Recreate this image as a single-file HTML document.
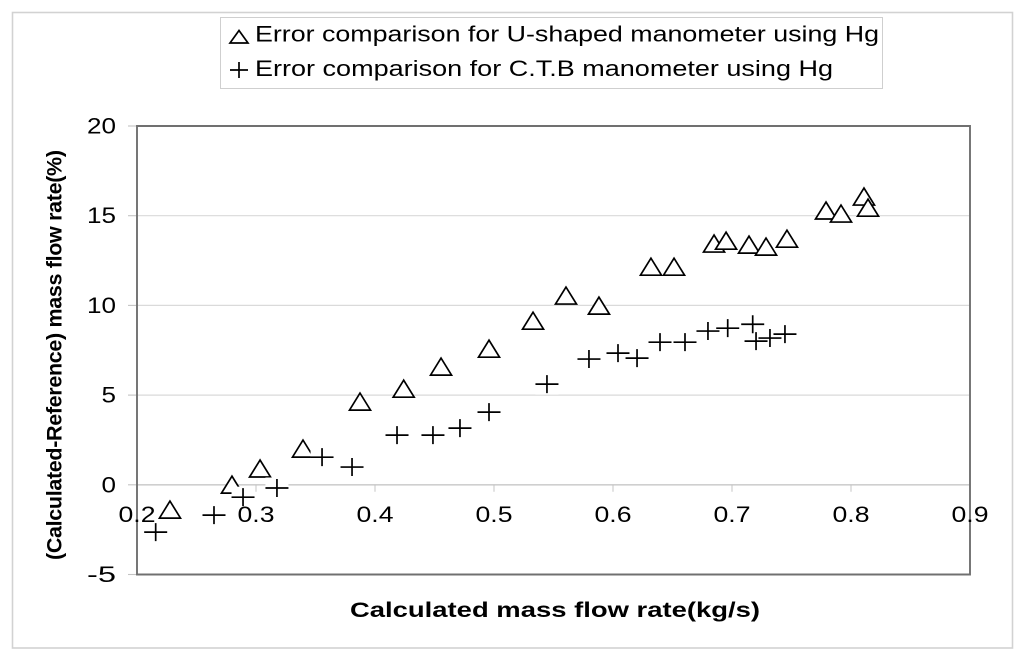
<!DOCTYPE html>
<html lang="en">
<head>
<meta charset="utf-8">
<title>Error comparison chart</title>
<style>
html,body{margin:0;padding:0;background:#fff;}
svg{display:block;font-family:"Liberation Sans",sans-serif;filter:blur(0.35px);}
</style>
</head>
<body>
<svg id="chart" xmlns="http://www.w3.org/2000/svg" width="1024" height="660" viewBox="0 0 1024 660">
  <rect x="0" y="0" width="1024" height="660" fill="#ffffff"/>
  <rect x="12.5" y="12.5" width="1000" height="635.5" fill="#ffffff" stroke="#d2d2d2" stroke-width="1.6"/>
  <g id="grid"></g>
  <g id="axes"></g>
  <g id="marks"></g>
  <g id="labels"></g>
  <text x="350" y="617" font-size="21.5" font-weight="700" fill="#000" textLength="410" lengthAdjust="spacingAndGlyphs">Calculated mass flow rate(kg/s)</text>
  <text transform="translate(61.5,560) rotate(-90)" font-size="21.5" font-weight="700" fill="#000" textLength="410" lengthAdjust="spacing">(Calculated-Reference) mass flow rate(%)</text>
  <g>
    <rect x="220.5" y="17.5" width="662" height="71" fill="#ffffff" stroke="#cfcfcf" stroke-width="1"/>
    <polygon points="239,30.5 230,43 248,43" fill="#fff" stroke="#000" stroke-width="1.7"/>
    <text x="255" y="41.5" font-size="22.5" fill="#000" textLength="624" lengthAdjust="spacingAndGlyphs">Error comparison for U-shaped manometer using Hg</text>
    <path d="M230 70H248M239 62V78" fill="none" stroke="#000" stroke-width="1.7"/>
    <text x="255" y="76" font-size="22.5" fill="#000" textLength="578" lengthAdjust="spacingAndGlyphs">Error comparison for C.T.B manometer using Hg</text>
  </g>
</svg>
<script>
const xTicks = [0.2, 0.3, 0.4, 0.5, 0.6, 0.7, 0.8, 0.9];
const yTicks = [20, 15, 10, 5, 0, -5];
const xTickLabels = ["0.2", "0.3", "0.4", "0.5", "0.6", "0.7", "0.8", "0.9"];
const yTickLabels = ["20", "15", "10", "5", "0", "-5"];

const uShapedX = [0.2277, 0.2798, 0.3034, 0.3395, 0.3874, 0.4241, 0.4555, 0.4958, 0.5328, 0.5605, 0.5882, 0.6319, 0.6513, 0.6849, 0.6950, 0.7143, 0.7286, 0.7462, 0.7790, 0.7916, 0.8109, 0.8143];
const uShapedY = [-1.41, -0.02, 0.88, 1.99, 4.61, 5.33, 6.56, 7.56, 9.12, 10.52, 9.96, 12.13, 12.13, 13.42, 13.58, 13.36, 13.25, 13.69, 15.26, 15.09, 16.04, 15.42];

const ctbX = [0.2157, 0.2647, 0.2891, 0.3176, 0.3555, 0.3807, 0.4185, 0.4487, 0.4714, 0.4958, 0.5445, 0.5798, 0.6042, 0.6202, 0.6395, 0.6605, 0.6798, 0.6964, 0.7174, 0.7202, 0.7319, 0.7445];
const ctbY = [-2.64, -1.69, -0.69, -0.18, 1.54, 0.99, 2.77, 2.77, 3.16, 4.05, 5.61, 7.01, 7.34, 7.06, 7.95, 7.95, 8.57, 8.73, 8.95, 8.01, 8.18, 8.40];

const NS = "http://www.w3.org/2000/svg";
const plotLeft = 137, plotRight = 970, plotTop = 126, plotBottom = 574.5;
const xMin = 0.2, xMax = 0.9, yMin = -5, yMax = 20;

function xScale(v) { return plotLeft + (v - xMin) / (xMax - xMin) * (plotRight - plotLeft); }
function yScale(v) { return plotBottom - (v - yMin) / (yMax - yMin) * (plotBottom - plotTop); }

function make(tag, attrs, parent) {
  const el = document.createElementNS(NS, tag);
  for (const k in attrs) el.setAttribute(k, attrs[k]);
  parent.appendChild(el);
  return el;
}

const grid = document.getElementById("grid");
const axes = document.getElementById("axes");
const marks = document.getElementById("marks");
const labels = document.getElementById("labels");

yTicks.forEach(function (t, i) {
  const y = yScale(t);
  if (t !== yMin && t !== yMax) {
    const g = make("line", { x1: plotLeft, x2: plotRight, y1: y, y2: y, stroke: t === 0 ? "#cfcfcf" : "#dadada", "stroke-width": t === 0 ? 1.6 : 1.2 }, grid);
    
    
  }
  const tick = make("line", { x1: plotLeft - 9, x2: plotLeft, y1: y, y2: y, stroke: "#c4c4c4", "stroke-width": 1.1 }, axes);
  
  
  const lab = make("text", { x: 116, y: y + 7.5, "text-anchor": "end", "font-size": 22, fill: "#000", textLength: yTickLabels[i].length * 14.5, lengthAdjust: "spacingAndGlyphs" }, labels);
  lab.textContent = yTickLabels[i];
  
  
});

xTicks.forEach(function (t, i) {
  const x = xScale(t);
  const tick = make("line", { x1: x, x2: x, y1: yScale(0), y2: yScale(0) + 7, stroke: "#c4c4c4", "stroke-width": 1 }, axes);
  
  
  const lab = make("text", { x: x, y: 522, "text-anchor": "middle", "font-size": 22, fill: "#000", textLength: 37, lengthAdjust: "spacingAndGlyphs" }, labels);
  lab.textContent = xTickLabels[i];
  
  
});

const border = make("path", {
  d: "M" + plotLeft + " " + plotBottom + "V" + plotTop + "H" + plotRight + "V" + plotBottom + "Z",
  fill: "none", stroke: "#707070", "stroke-width": 1.9
}, axes);



uShapedX.forEach(function (v, i) {
  const x = xScale(v), y = yScale(uShapedY[i]);
  const tri = make("polygon", {
    points: x + "," + (y - 9) + " " + (x - 10.5) + "," + (y + 8) + " " + (x + 10.5) + "," + (y + 8),
    fill: "#ffffff", stroke: "#000", "stroke-width": 1.7
  }, marks);
  
  
});

ctbX.forEach(function (v, i) {
  const x = xScale(v), y = yScale(ctbY[i]);
  const bg = make("rect", { x: x - 11.5, y: y - 10.5, width: 23, height: 21, fill: "#ffffff" }, marks);
  
  
});
ctbX.forEach(function (v, i) {
  const x = xScale(v), y = yScale(ctbY[i]);
  const plus = make("path", {
    d: "M" + (x - 11.5) + " " + y + "H" + (x + 11.5) + "M" + x + " " + (y - 9) + "V" + (y + 9),
    fill: "none", stroke: "#000", "stroke-width": 1.7
  }, marks);
  
  
});
</script>
</body>
</html>
